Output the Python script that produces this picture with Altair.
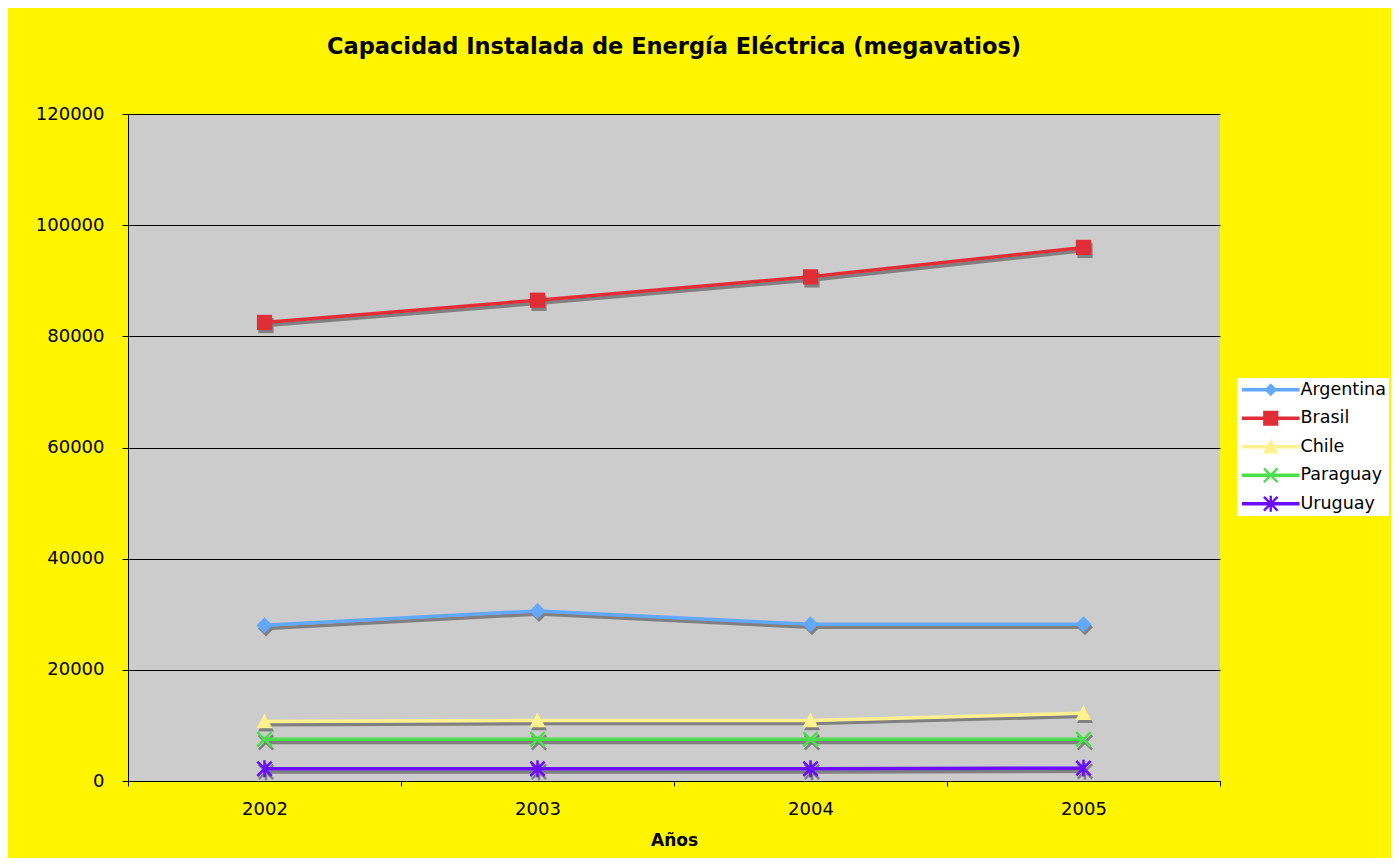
import altair as alt
import pandas as pd

# ---- data ----
years = ["2002", "2003", "2004", "2005"]
countries = ["Argentina", "Brasil", "Chile", "Paraguay", "Uruguay"]
argentina = [28000, 30600, 28200, 28200]
brasil = [82500, 86500, 90700, 96000]
chile = [10700, 10900, 10900, 12200]
paraguay = [7500, 7500, 7500, 7500]
uruguay = [2200, 2200, 2200, 2300]
colors = ["#63A8FF", "#E12D36", "#FFF18F", "#4BE04B", "#6A0DFF"]

series = [argentina, brasil, chile, paraguay, uruguay]
rows = []
for c, vals in zip(countries, series):
    for y, v in zip(years, vals):
        rows.append({"year": y, "country": c, "value": v})
df = pd.DataFrame(rows)

FONT = "DejaVu Sans"


# ---- marker shapes (custom symbol paths, unit = half marker size) ----
def poly(pts):
    return "M" + "L".join(f"{x:.3f},{y:.3f}" for x, y in pts) + "Z"


def xshape(r=0.9, t=0.16):
    d = t * 0.7071
    a = poly([(-r + d, -r - d), (r + d, r - d), (r - d, r + d), (-r - d, -r + d)])
    b = poly([(-r - d, r - d), (r - d, -r - d), (r + d, -r + d), (-r + d, r + d)])
    return a + b


diamond = "M0,-1L1,0L0,1L-1,0Z"
square = "M-0.95,-0.95H0.95V0.95H-0.95Z"
triangle = "M0,-1L1,0.85L-1,0.85Z"
cross = xshape()
aster = xshape() + "M-0.16,-1.05H0.16V1.05H-0.16Z"
markers = [diamond, square, triangle, cross, aster]

bar = "M-3.6,-0.22H3.6V0.22H-3.6Z"
legend_markers = [
    "M0,-0.8L0.8,0L0,0.8L-0.8,0Z",
    square,
    triangle,
    xshape(0.85, 0.15),
    xshape(0.85, 0.15) + "M-0.15,-1H0.15V1H-0.15Z",
]
legend_paths = [bar + m for m in legend_markers]

xscale = alt.Scale(type="band", paddingInner=0, paddingOuter=0)
xaxis = alt.Axis(
    title="Años", tickBand="extent", labelAngle=0, labelFont=FONT, labelFontSize=18,
    labelColor="black", labelPadding=14, tickColor="black", tickSize=5,
    domainColor="black", titleFont=FONT, titleFontSize=17, titleFontWeight="bold",
    titleColor="black", titlePadding=14, grid=False,
)
yaxis = alt.Axis(
    title=None, values=[0, 20000, 40000, 60000, 80000, 100000, 120000],
    format="d", labelFont=FONT, labelFontSize=18, labelColor="black",
    labelPadding=18, tickColor="black", tickSize=6, domainColor="black",
    grid=True, gridColor="black", gridWidth=1,
)
yscale = alt.Scale(domain=[0, 120000], nice=False)

x_main = alt.X("year:O", scale=xscale, axis=xaxis, bandPosition=0.5)
x_shadow = alt.X("year:O", scale=xscale, axis=xaxis, bandPosition=0.5055)

base = alt.Chart(df)

layers = []
# gray drop shadows
for c, m in zip(countries, markers):
    sh = base.transform_filter(alt.datum.country == c).transform_calculate(sv="datum.value - 560")
    layers.append(sh.mark_line(color="#808080", strokeWidth=3.5).encode(
        x=x_shadow, y=alt.Y("sv:Q", scale=yscale, axis=yaxis)))
    layers.append(sh.mark_point(filled=True, color="#808080", size=256, opacity=1, shape=m).encode(
        x=x_shadow, y=alt.Y("sv:Q", scale=yscale, axis=yaxis)))
# coloured series
for c, col, m in zip(countries, colors, markers):
    s = base.transform_filter(alt.datum.country == c)
    layers.append(s.mark_line(color=col, strokeWidth=3.5).encode(
        x=x_main, y=alt.Y("value:Q", scale=yscale, axis=yaxis)))
    layers.append(s.mark_point(filled=True, color=col, size=256, opacity=1, shape=m).encode(
        x=x_main, y=alt.Y("value:Q", scale=yscale, axis=yaxis)))

leg = alt.Legend(
    title=None, orient="none", legendX=1109, legendY=264, fillColor="white",
    padding=3, labelFont=FONT, labelFontSize=17.5, labelColor="black",
    symbolSize=256, symbolOffset=22, labelOffset=21, rowPadding=9.5,
    symbolStrokeWidth=0, symbolOpacity=1,
)
legend_layer = base.mark_point(filled=True, size=256, opacity=0).encode(
    x=x_main, y=alt.Y("value:Q", scale=yscale, axis=yaxis),
    color=alt.Color("country:N", scale=alt.Scale(domain=countries, range=colors), legend=leg),
    shape=alt.Shape("country:N", scale=alt.Scale(domain=countries, range=legend_paths), legend=leg),
)
layers.append(legend_layer)

chart = (
    alt.layer(*layers)
    .properties(
        width=1092, height=667,
        autosize=alt.AutoSizeParams(type="none"),
        padding={"left": 120, "top": 106, "right": 171, "bottom": 77},
        background="#FFF500",
        view=alt.ViewBackground(fill="#CCCCCC", strokeWidth=0),
        title=alt.TitleParams(
            "Capacidad Instalada de Energía Eléctrica (megavatios)",
            font=FONT, fontSize=22.5, fontWeight="bold", color="black",
            anchor="middle", offset=47,
        ),
    )
    .configure_view(fill="#CCCCCC", strokeWidth=0)
)

chart.save("out.html", embed_options={"renderer": "svg", "actions": False})
